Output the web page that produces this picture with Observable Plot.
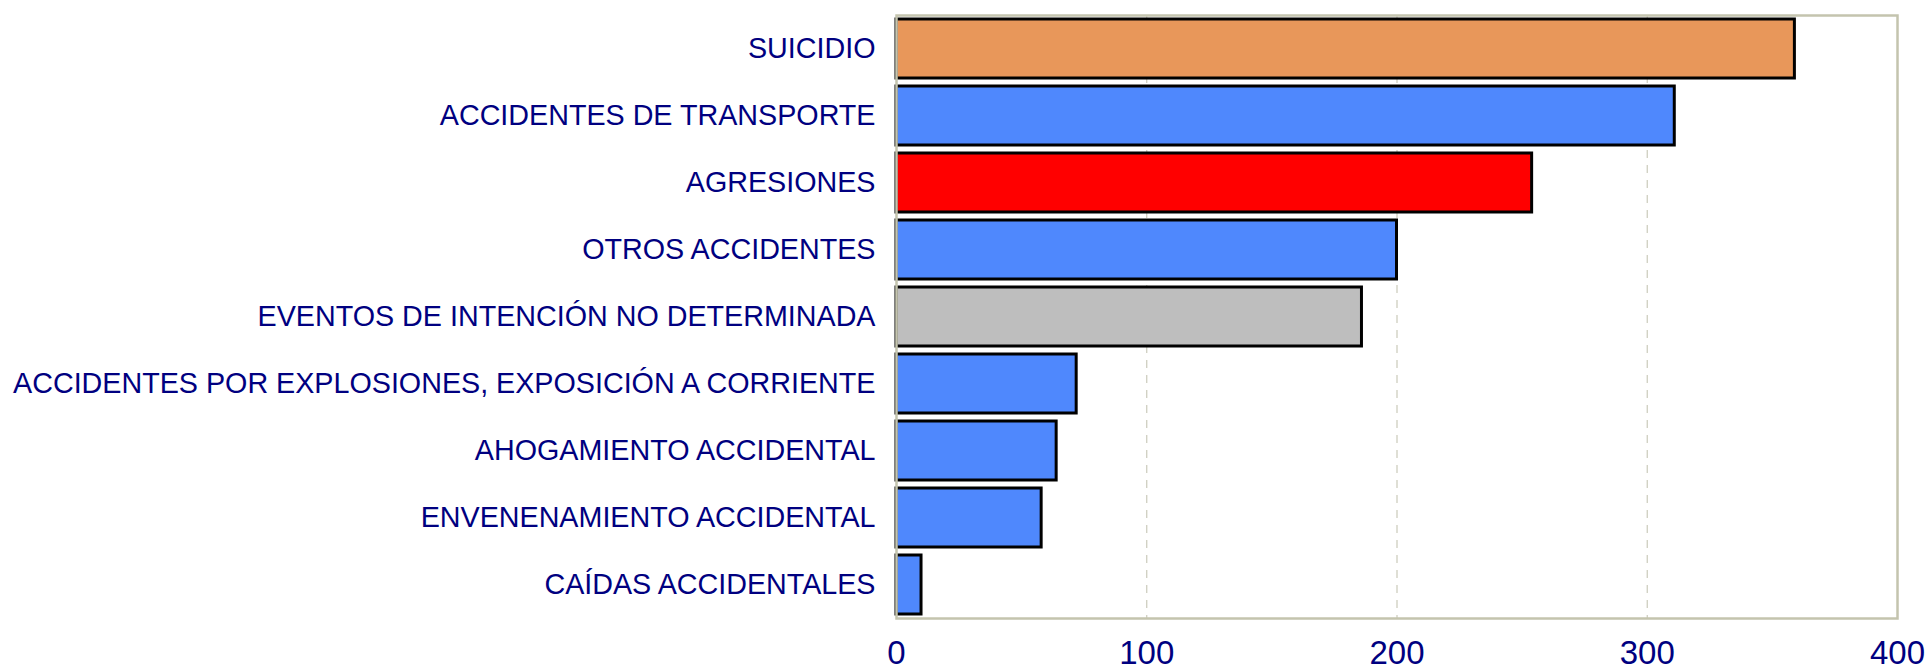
<!DOCTYPE html>
<html>
<head>
<meta charset="utf-8">
<script src="https://cdn.jsdelivr.net/npm/d3@7"></script>
<script src="https://cdn.jsdelivr.net/npm/@observablehq/plot@0.6"></script>
<style>
  html, body { margin: 0; padding: 0; background: #ffffff; }
  #chart svg { display: block; background: linear-gradient(to right, #ffffff 11px, #E8E8E8 11px); }
</style>
</head>
<body>
<div id="chart"></div>
<script>
const categories = [
  "SUICIDIO",
  "ACCIDENTES DE TRANSPORTE",
  "AGRESIONES",
  "OTROS ACCIDENTES",
  "EVENTOS DE INTENCIÓN NO DETERMINADA",
  "ACCIDENTES POR EXPLOSIONES, EXPOSICIÓN A CORRIENTE",
  "AHOGAMIENTO ACCIDENTAL",
  "ENVENENAMIENTO ACCIDENTAL",
  "CAÍDAS ACCIDENTALES"
];
const values = [359, 311, 254, 200, 186, 72, 64, 58, 10];
const barColors = ["#E8975A", "#4F88FD", "#FF0000", "#4F88FD", "#BEBEBE", "#4F88FD", "#4F88FD", "#4F88FD", "#4F88FD"];
const xTicks = [0, 100, 200, 300, 400];
const gridTicks = [100, 200, 300];

const data = categories.map((c, i) => ({category: c, value: values[i], color: barColors[i]}));

const chart = Plot.plot({
  width: 1930,
  height: 668,
  marginLeft: 896,
  marginRight: 33,
  marginTop: 15,
  marginBottom: 50,
  style: {background: "transparent", fontFamily: "'Liberation Sans', Arial, sans-serif", color: "#000080"},
  x: {domain: [0, 400], ticks: xTicks, label: null},
  y: {domain: categories, label: null, paddingInner: 0.12, paddingOuter: 0.05},
  marks: [
    Plot.ruleX(gridTicks, {stroke: "#CACABA", strokeWidth: 1.2, strokeDasharray: "8,7"}),
    Plot.barX(data, {y: "category", x: "value", fill: d => d.color, stroke: "#000000", strokeWidth: 3}),
    Plot.frame({stroke: "#C4C4AE", strokeWidth: 2.5}),
    Plot.axisY({tickSize: 0, tickPadding: 21, fontSize: 28.7, fill: "#000080"}),
    Plot.axisX({ticks: xTicks, tickSize: 0, tickPadding: 22, fontSize: 33, fill: "#000080"})
  ]
});
document.getElementById("chart").appendChild(chart);
</script>
</body>
</html>
